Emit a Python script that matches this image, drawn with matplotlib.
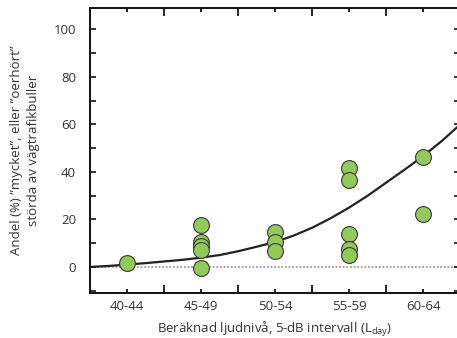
import matplotlib.pyplot as plt
from matplotlib.ticker import MultipleLocator

plt.rcParams['font.family'] = ['Open Sans', 'DejaVu Sans']

# kategorier (5-dB intervall)
kategorier = ["40-44", "45-49", "50-54", "55-59", "60-64"]

# mätpunkter: (kategori-index, andel %)
punkt_x = [0, 1, 1, 1, 1, 1, 2, 2, 2, 3, 3, 3, 3, 3, 4, 4]
punkt_y = [1.5, 17.5, 10.5, 9, 7.3, -0.5, 14.7, 10.5, 6.7, 41.5, 36.5, 14, 7.7, 5.2, 46.5, 22.5]

# anpassad kurva
kurva_x = [-0.5, -0.25, 0, 0.25, 0.5, 0.75, 1, 1.25, 1.5, 1.75, 2, 2.25, 2.5, 2.75,
           3, 3.25, 3.5, 3.75, 4, 4.25, 4.5]
kurva_y = [0, 0.4, 1.0, 1.6, 2.3, 3.0, 3.9, 5.0, 6.6, 8.5, 10.5, 13.2, 16.5, 20.5,
           25, 30, 35.5, 41, 46.7, 53, 60]

fig = plt.figure(figsize=(4.57, 3.38), dpi=100)
ax = fig.add_axes([0.197, 0.133, 0.81, 0.843])

ax.axhline(0, color="#9a9a9a", lw=1.3, ls=(0, (1, 1)), zorder=1)
ax.plot(kurva_x, kurva_y, color="#222222", lw=1.6, zorder=2)
ax.scatter(punkt_x, punkt_y, s=130, color="#92c95a", edgecolor="#3a3a3a",
           linewidth=0.8, zorder=3)

ax.set_xlim(-0.5, 4.5)
ax.set_ylim(-11, 109)

ax.set_xticks(range(len(kategorier)))
ax.set_xticklabels(kategorier)
ax.set_xticks([0.5, 1.5, 2.5, 3.5], minor=True)
ax.set_yticks([0, 20, 40, 60, 80, 100])
ax.yaxis.set_minor_locator(MultipleLocator(10))

ax.tick_params(axis="x", which="major", direction="in", length=3, width=1.2,
               top=True, labelsize=9.5, labelcolor="#333333", pad=5)
ax.tick_params(axis="x", which="minor", direction="in", length=6, width=1.2, top=True)
ax.tick_params(axis="y", which="both", direction="in", length=4, width=1.1,
               right=True, labelsize=9.5, labelcolor="#333333", pad=10)

for s in ["left", "bottom", "top"]:
    ax.spines[s].set_linewidth(1.4)
    ax.spines[s].set_color("#111111")
ax.spines["right"].set_visible(False)

ax.set_xlabel(r"Beräknad ljudnivå, 5-dB intervall (L$_{\mathregular{day}}$)",
              fontsize=9.5, color="#333333", labelpad=5)
ax.set_ylabel("Andel (%) \u201dmycket\u201d, eller \u201doerhört\u201d\nstörda av vägtrafikbuller",
              fontsize=9.5, color="#333333", labelpad=10, linespacing=1.35)

fig.savefig("out.png", dpi=100)
